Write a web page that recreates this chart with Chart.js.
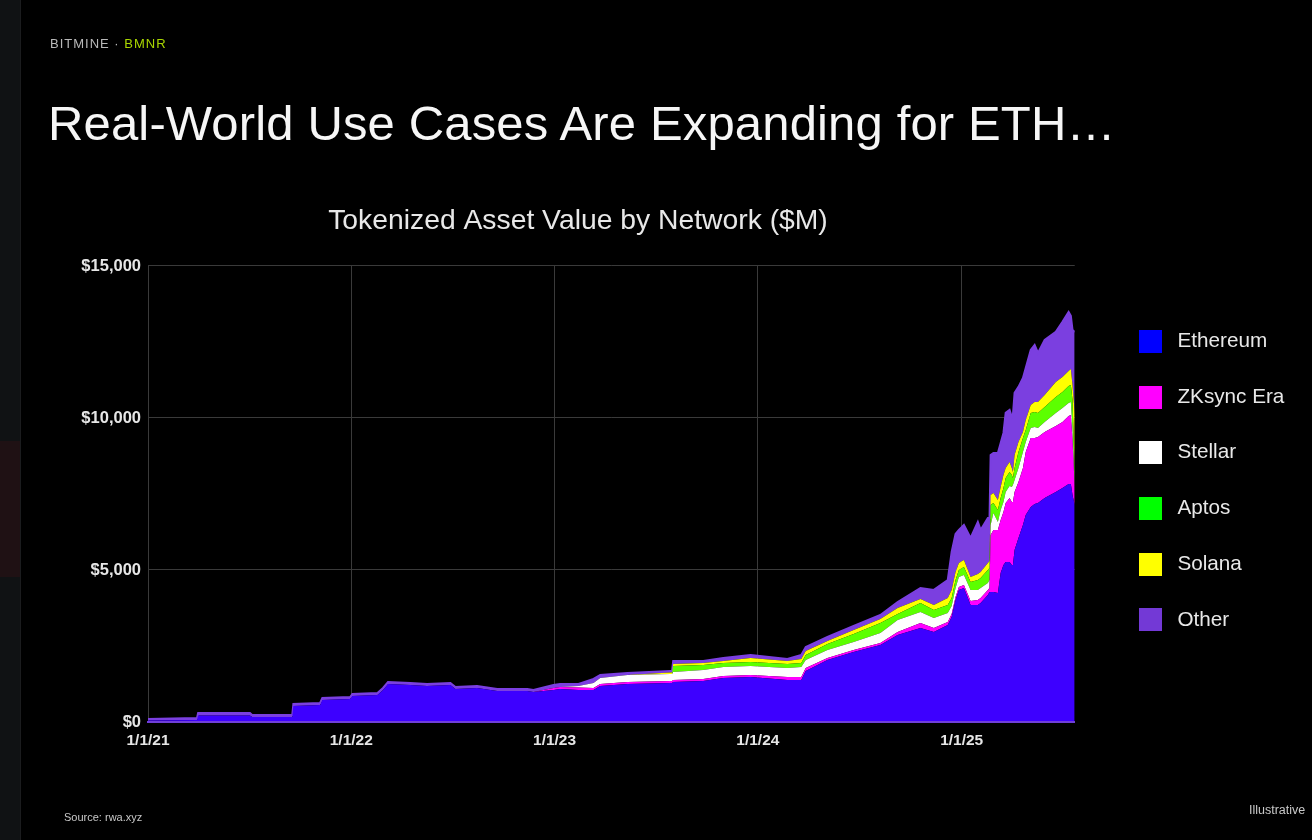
<!DOCTYPE html>
<html><head><meta charset="utf-8">
<script src="https://cdn.jsdelivr.net/npm/chart.js@4"></script>
<style>
html,body{margin:0;padding:0;background:#000;width:1312px;height:840px;overflow:hidden;font-family:"Liberation Sans",Arial,sans-serif}
.strip{position:absolute;left:0;top:0;width:20px;height:840px;background:#101214;border-right:1px solid #1b1c1e}
.block{position:absolute;left:0;top:441px;width:20px;height:136px;background:#1f1114}
.t{position:absolute;white-space:nowrap;will-change:transform}
#chartBox{position:absolute;left:0;top:0;width:1312px;height:840px}
</style></head><body>
<div class="strip"></div><div class="block"></div>
<div class="t" style="left:50px;top:36px;font-size:13px;line-height:15px;color:#b8b8b8;letter-spacing:1px">BITMINE · <span style="color:#a9d600">BMNR</span></div>
<div class="t" style="left:48px;top:92px;font-size:49px;line-height:62px;color:#f6f6f6;letter-spacing:.15px">Real-World Use Cases Are Expanding for ETH…</div>
<div class="t" style="left:64px;top:810px;font-size:11px;line-height:14px;color:#c8c8c8">Source: rwa.xyz</div>
<div class="t" style="left:1249px;top:803px;font-size:12.5px;line-height:14px;color:#c8c8c8">Illustrative</div>
<div id="chartBox"><canvas id="c" width="1312" height="840"></canvas></div>
<script>
const chartTitle = "Tokenized Asset Value by Network ($M)";
const xTickDays = [0,365,730,1095,1461];
const xTickLabels = ["1/1/21","1/1/22","1/1/23","1/1/24","1/1/25"];
const seriesNames = ["Ethereum","ZKsync Era","Stellar","Aptos","Solana","Other"];
const areaColors = ["#3d00ff","#ff00ff","#ffffff","#5cff00","#ffff00","#7b3fe0"];
const legendColors = ["#0000ff","#ff00ff","#ffffff","#00ff00","#ffff00","#7339d6"];
// days since 1/1/21
const days = [0,88,90,183,187,259,261,309,313,363,367,412,422,431,471,501,543,552,591,627,681,692,728,740,773,800,812,861,938,941,943,997,1033,1082,1148,1173,1181,1220,1267,1315,1346,1387,1411,1436,1443,1450,1456,1465,1477,1490,1495,1508,1511,1513,1518,1526,1531,1536,1540,1547,1551,1553,1556,1563,1571,1576,1585,1592,1598,1610,1630,1642,1653,1657,1660,1664];
const ethereum = [50,66,214,214,165,165,526,560,724,757,855,888,1053,1250,1217,1184,1217,1086,1119,1020,1020,987,1053,1086,1053,1053,1184,1250,1283,1283,1316,1349,1448,1480,1382,1382,1678,2040,2303,2533,2862,3093,2961,3191,3455,4014,4343,4409,3849,3849,3915,4178,4277,4277,4277,4244,4902,5165,5264,5264,5165,5165,5659,6054,6481,6810,7074,7172,7205,7370,7567,7699,7830,7830,7468,7139];
const zksync = [0,0,0,0,0,0,0,0,0,0,0,0,0,0,0,0,0,0,0,0,0,0,66,66,82,66,66,66,66,66,66,66,66,66,99,99,99,66,66,66,99,165,132,99,99,99,99,99,132,165,165,165,132,1875,2040,2073,1744,1744,1941,2106,2073,2073,1908,1842,1875,2073,2270,2171,2171,2171,2171,2171,2237,2270,1810,592];
const stellar = [0,0,0,0,0,0,0,0,0,0,0,0,0,0,0,0,0,0,0,0,0,0,0,0,49,164,197,230,230,230,263,296,296,296,296,329,263,263,263,329,395,362,329,296,263,296,329,329,362,329,329,230,263,329,559,263,329,329,362,395,494,559,395,461,526,329,329,362,296,329,428,461,428,428,329,66];
const aptos = [0,0,0,0,0,0,0,0,0,0,0,0,0,0,0,0,0,0,0,0,0,0,0,0,0,0,0,0,0,0,197,164,132,132,132,132,164,197,263,329,197,296,263,263,263,263,230,263,263,329,329,428,395,658,329,395,395,461,461,461,395,230,395,526,461,395,494,494,494,494,526,526,559,559,987,494];
const solana = [0,0,0,0,0,0,0,0,0,0,0,0,0,0,0,0,0,0,0,0,0,0,0,0,0,0,0,0,49,49,66,66,66,132,99,132,132,99,132,132,197,132,165,230,263,263,230,230,165,197,197,230,230,329,329,329,362,428,329,329,230,197,428,329,197,329,263,329,362,395,494,494,494,526,494,1875];
const other = [50,66,82,82,66,66,66,66,66,66,66,66,66,66,66,66,66,66,66,66,66,66,98,98,66,132,99,66,50,50,99,66,99,99,66,132,132,132,132,132,197,362,494,592,1250,1250,1086,1152,1283,1711,1382,1480,1415,1316,1316,1546,1448,1382,1810,1711,1678,1875,2040,1810,1777,1711,1810,1875,1612,1810,1645,1810,1941,1744,1810,2665];
const seriesValues = [ethereum,zksync,stellar,aptos,solana,other];

function swatch(color){
  const c=document.createElement('canvas');c.width=23;c.height=23;
  const g=c.getContext('2d');g.fillStyle=color;g.fillRect(0,0,23,23);return c;
}
const swatches = legendColors.map(swatch);
const placer = {
  id:'placer',
  afterLayout(chart){
    const T=chart.titleBlock; const w=T.right-T.left;
    T.left=578-w/2; T.right=578+w/2;
    const L=chart.legend; const lw=L.right-L.left, lh=L.bottom-L.top;
    L.left=1099.1; L.right=L.left+lw;
    L.top=296; L.bottom=296+lh;
  }
};
new Chart(document.getElementById('c'),{
  type:'line',
  data:{datasets:seriesNames.map((name,i)=>({
    label:name,
    data:days.map((d,k)=>({x:d,y:seriesValues[i][k]})),
    backgroundColor:areaColors[i],
    borderColor:areaColors[i],
    borderWidth:i===5?2:0,pointRadius:0,tension:0,
    fill:i===0?'origin':'-1',stack:'a'
  }))},
  plugins:[placer],
  options:{
    responsive:false,animation:false,devicePixelRatio:1,
    layout:{padding:{top:204.5,bottom:88,left:0,right:42}},
    scales:{
      x:{type:'linear',min:0,max:1664,
        afterBuildTicks(s){s.ticks=xTickDays.map(v=>({value:v}));},
        afterFit(s){s.height=30;},
        ticks:{color:'#e6e6e6',font:{family:'"Liberation Sans"',size:15.5,weight:'bold'},maxRotation:0,autoSkip:false,padding:9,
          callback(v){const i=xTickDays.indexOf(v);return i<0?'':xTickLabels[i];}},
        grid:{color:'#3a3a3a',lineWidth:1,drawTicks:false},
        border:{color:'#6f3fd8',width:2,z:1}},
      y:{stacked:true,min:0,max:15000,
        afterFit(s){s.width=148;},
        ticks:{stepSize:5000,color:'#e6e6e6',font:{family:'"Liberation Sans"',size:16.5,weight:'bold'},padding:7,
          callback(v){return '$'+Number(v).toLocaleString('en-US');}},
        grid:{color:'#3a3a3a',lineWidth:1,drawTicks:false},
        border:{color:'#3a3a3a',width:1}}
    },
    plugins:{
      tooltip:{enabled:false},
      title:{display:true,text:chartTitle,color:'#e8e8e8',font:{family:'"Liberation Sans"',size:28.3,weight:'normal',lineHeight:1.2},padding:{top:0,bottom:27.5}},
      legend:{position:'right',align:'start',
        labels:{usePointStyle:true,pointStyleWidth:33,boxHeight:23,padding:35,color:'#e8e8e8',font:{family:'"Liberation Sans"',size:20.7},
          generateLabels(){return seriesNames.map((n,i)=>({text:n,pointStyle:swatches[i],fillStyle:legendColors[i],strokeStyle:legendColors[i],lineWidth:0,fontColor:'#e8e8e8',datasetIndex:i}));}
        }}
    }
  }
});
</script>
</body></html>
